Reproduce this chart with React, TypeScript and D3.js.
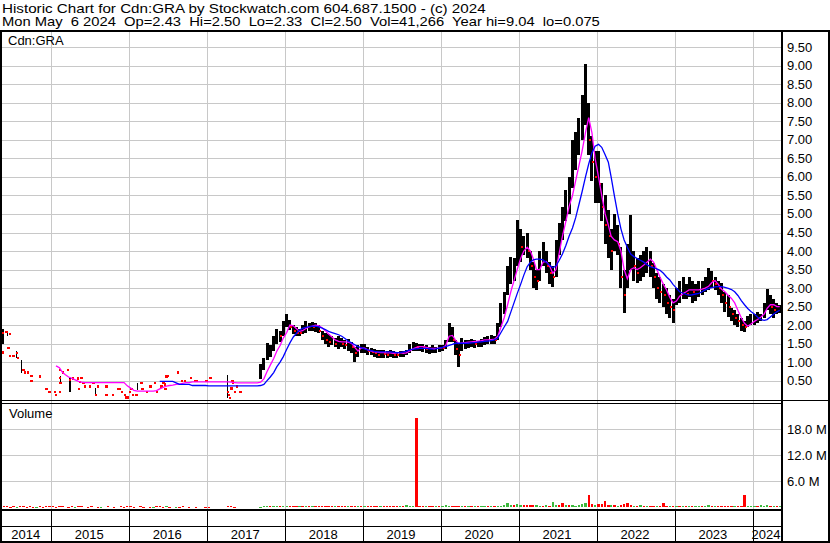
import React from "react";
import * as d3 from "d3";

// ---------------- DATA ----------------
const headerLine1 = "Historic Chart for Cdn:GRA by Stockwatch.com 604.687.1500 - (c) 2024";
const headerLine2 = "Mon May  6 2024  Op=2.43  Hi=2.50  Lo=2.33  Cl=2.50  Vol=41,266  Year hi=9.04  lo=0.075";
const symbolLabel = "Cdn:GRA";
const volumeLabel = "Volume";
const yearLabels = ["2014", "2015", "2016", "2017", "2018", "2019", "2020", "2021", "2022", "2023", "2024"];
const priceTicks = [0.5, 1, 1.5, 2, 2.5, 3, 3.5, 4, 4.5, 5, 5.5, 6, 6.5, 7, 7.5, 8, 8.5, 9, 9.5];
const volumeTicks = [6, 12, 18];

// thinly traded period: single-price trades (red marks)
const thinDates = [
  "2014-05-18", "2014-05-21", "2014-06-06", "2014-06-14", "2014-06-21", "2014-06-21", "2014-07-07", "2014-07-23",
  "2014-07-30", "2014-08-23", "2014-08-31", "2014-09-15", "2014-10-01", "2014-10-01", "2014-11-09", "2014-12-10",
  "2014-12-23", "2015-01-18", "2015-01-23", "2015-02-10", "2015-02-10", "2015-02-26", "2015-03-21", "2015-02-10",
  "2015-02-13", "2015-03-29", "2015-04-14", "2015-05-07", "2015-05-23", "2015-05-15", "2015-05-11", "2015-05-31",
  "2015-06-08", "2015-07-01", "2015-07-17", "2015-08-09", "2015-07-29", "2015-09-17", "2015-09-17", "2015-11-11",
  "2015-11-19", "2015-10-18", "2015-12-12", "2015-11-27", "2015-12-20", "2015-12-26", "2016-01-04", "2016-01-12",
  "2016-01-20", "2016-02-05", "2016-02-28", "2016-03-04", "2016-03-23", "2016-04-10", "2016-05-01", "2016-05-09",
  "2016-06-01", "2016-06-09", "2016-06-16", "2016-06-20", "2016-06-24", "2016-07-02", "2016-08-18", "2016-09-03",
  "2016-09-18", "2016-10-16", "2016-11-04", "2016-11-12", "2016-12-29", "2017-01-16", "2017-04-09", "2017-04-14",
  "2017-04-17", "2017-04-25", "2017-04-29", "2017-05-02", "2017-05-10", "2017-05-21", "2017-06-06",
];
const thinPrices = [
  1.78, 1.26, 1.82, 1.39, 1.76, 1.17, 1.17, 1.25,
  1.11, 0.79, 0.72, 0.72, 0.63, 0.49, 0.61, 0.28,
  0.2, 0.2, 0.11, 0.2, 0.79, 0.72, 0.79, 0.58,
  0.43, 0.52, 0.56, 0.56, 0.58, 0.47, 0.28, 0.43,
  0.34, 0.34, 0.43, 0.34, 0.11, 0.34, 0.11, 0.28,
  0.28, 0.11, 0.11, 0.2, 0.05, 0.05, 0.2, 0.27,
  0.11, 0.11, 0.43, 0.28, 0.2, 0.34, 0.43, 0.2,
  0.34, 0.43, 0.4, 0.28, 0.61, 0.63, 0.72, 0.49,
  0.49, 0.58, 0.49, 0.49, 0.49, 0.58, 0.2, 0.11,
  0.04, 0.29, 0.49, 0.45, 0.2, 0.34, 0.2,
];
// thinly traded period: days with a range
const thinBarDates = ["2014-05-19", "2014-06-08", "2014-07-23", "2014-08-15", "2015-02-12", "2015-03-29", "2015-07-25", "2016-02-10", "2017-04-06"];
const thinBarHigh = [1.9, 1.85, 1.29, 1.06, 0.62, 0.57, 0.3, 0.44, 0.65];
const thinBarLow = [1.5, 1.7, 1.11, 0.71, 0.42, 0.2, 0.11, 0.25, 0.03];

// half-month periods [high, low, close]
const hlc2017 = [
  null, null, null, null, null, null, null, null, null, null, null, null, null, null, null, null,
  [0.95, 0.55, 0.85], [1.1, 0.8, 1.0], [1.52, 1.05, 1.3], [1.45, 1.15, 1.3], [1.7, 1.3, 1.6], [1.9, 1.5, 1.75], [1.85, 1.55, 1.7], [2.1, 1.7, 2.0],
];
const hlc2018 = [
  [2.3, 1.95, 2.1], [2.15, 1.88, 1.95], [2.0, 1.75, 1.85], [1.95, 1.7, 1.8], [1.9, 1.7, 1.78], [2.0, 1.75, 1.9], [2.1, 1.8, 1.95], [2.05, 1.85, 2.0],
  [2.08, 1.85, 1.95], [2.05, 1.82, 1.95], [2.0, 1.78, 1.85], [1.85, 1.6, 1.7], [1.8, 1.5, 1.6], [1.75, 1.42, 1.55], [1.7, 1.45, 1.55], [1.65, 1.4, 1.5],
  [1.7, 1.35, 1.55], [1.65, 1.4, 1.5], [1.6, 1.35, 1.45], [1.62, 1.3, 1.45], [1.55, 1.25, 1.4], [1.4, 1.0, 1.25], [1.45, 1.15, 1.3], [1.5, 1.25, 1.4],
];
const hlc2019 = [
  [1.5, 1.25, 1.4], [1.4, 1.2, 1.3], [1.38, 1.18, 1.28], [1.35, 1.15, 1.25], [1.33, 1.12, 1.2], [1.32, 1.1, 1.25], [1.33, 1.12, 1.22], [1.3, 1.1, 1.2],
  [1.32, 1.15, 1.25], [1.3, 1.12, 1.2], [1.28, 1.1, 1.18], [1.3, 1.13, 1.22], [1.3, 1.15, 1.25], [1.33, 1.18, 1.28], [1.48, 1.25, 1.4], [1.55, 1.3, 1.45],
  [1.52, 1.3, 1.4], [1.5, 1.3, 1.42], [1.48, 1.28, 1.4], [1.45, 1.25, 1.35], [1.42, 1.22, 1.38], [1.45, 1.25, 1.35], [1.42, 1.25, 1.38], [1.45, 1.28, 1.4],
];
const hlc2020 = [
  [1.45, 1.3, 1.38], [1.6, 1.35, 1.5], [2.05, 1.55, 1.85], [1.95, 1.55, 1.6], [1.6, 1.2, 1.35], [1.5, 0.88, 1.2], [1.65, 1.3, 1.5], [1.6, 1.35, 1.5],
  [1.6, 1.38, 1.5], [1.62, 1.4, 1.55], [1.6, 1.38, 1.5], [1.58, 1.4, 1.52], [1.62, 1.42, 1.55], [1.68, 1.45, 1.6], [1.7, 1.48, 1.6], [1.72, 1.5, 1.62],
  [1.7, 1.5, 1.6], [2.05, 1.6, 1.9], [2.6, 1.95, 2.4], [2.9, 2.3, 2.7], [3.6, 2.8, 3.3], [3.85, 3.1, 3.5], [3.8, 3.2, 3.5], [4.84, 3.6, 4.2],
];
const hlc2021 = [
  [4.6, 3.7, 4.1], [4.4, 3.9, 4.2], [4.5, 3.8, 4.0], [4.0, 3.5, 3.6], [3.7, 3.0, 3.3], [3.5, 2.95, 3.2], [4.0, 3.2, 3.8], [4.25, 3.6, 3.9],
  [4.0, 3.4, 3.6], [3.7, 3.1, 3.4], [3.6, 3.04, 3.3], [4.3, 3.3, 4.0], [4.75, 3.9, 4.4], [5.2, 4.3, 4.9], [5.65, 4.8, 5.3], [6.0, 5.0, 5.7],
  [7.0, 5.7, 6.6], [7.2, 6.2, 6.8], [7.6, 6.6, 7.3], [8.2, 7.0, 7.8], [9.04, 7.4, 8.0], [8.0, 6.6, 7.0], [7.1, 5.9, 6.4], [6.7, 5.3, 6.0],
];
const hlc2022 = [
  [6.7, 5.3, 5.8], [5.85, 4.8, 5.2], [5.5, 4.2, 4.7], [5.1, 3.8, 4.4], [4.6, 3.5, 4.0], [5.0, 4.0, 4.5], [4.7, 3.9, 4.2], [4.1, 3.0, 3.3],
  [3.5, 2.32, 2.8], [4.2, 3.0, 3.8], [4.97, 3.5, 3.9], [4.0, 3.2, 3.6], [3.8, 3.15, 3.4], [3.9, 3.2, 3.7], [4.0, 3.3, 3.7], [4.12, 3.4, 3.8],
  [4.0, 3.3, 3.6], [3.67, 3.0, 3.3], [3.4, 2.7, 3.0], [3.3, 2.6, 2.9], [3.1, 2.5, 2.8], [3.0, 2.3, 2.6], [2.8, 2.2, 2.5], [2.7, 2.05, 2.4],
];
const hlc2023 = [
  [3.0, 2.55, 2.8], [3.2, 2.6, 2.9], [3.3, 2.7, 3.0], [3.1, 2.7, 2.85], [3.3, 2.75, 3.0], [3.2, 2.6, 2.9], [3.1, 2.65, 2.9], [3.2, 2.75, 3.0],
  [3.2, 2.8, 3.0], [3.3, 2.9, 3.1], [3.54, 2.95, 3.3], [3.45, 3.0, 3.2], [3.3, 2.95, 3.1], [3.2, 2.8, 3.0], [3.13, 2.6, 2.8], [2.9, 2.35, 2.6],
  [2.8, 2.23, 2.5], [2.45, 2.1, 2.3], [2.4, 2.0, 2.2], [2.3, 1.95, 2.1], [2.2, 1.85, 2.0], [2.1, 1.82, 1.95], [2.25, 1.95, 2.1], [2.3, 2.0, 2.15],
];
const hlc2024 = [
  [2.3, 2.0, 2.2], [2.35, 2.05, 2.2], [2.3, 2.1, 2.25], [2.6, 2.2, 2.5], [2.98, 2.4, 2.6], [2.8, 2.3, 2.5], [2.7, 2.2, 2.4], [2.6, 2.3, 2.5], [2.55, 2.33, 2.5],
];

// short moving average (magenta), per half-month
const pink2015 = [null, 0.9, 0.85, 0.72, 0.66, 0.6, 0.56, 0.52, 0.48, 0.46, 0.45, 0.45, 0.45, 0.45, 0.45, 0.45, 0.45, 0.45, 0.45, 0.45, 0.45, 0.45, 0.45, 0.36];
const pink2016 = [0.3, 0.24, 0.22, 0.22, 0.22, 0.22, 0.22, 0.22, 0.23, 0.28, 0.32, 0.35, 0.37, 0.38, 0.4, 0.41, 0.43, 0.45, 0.45, 0.47, 0.47, 0.47, 0.47, 0.47];
const pink2017 = [0.47, 0.47, 0.47, 0.47, 0.47, 0.47, 0.47, 0.46, 0.45, 0.44, 0.44, 0.44, 0.44, 0.44, 0.44, 0.44, 0.46, 0.55, 0.75, 0.92, 1.1, 1.3, 1.45, 1.65];
const pink2018 = [1.8, 2.0, 1.98, 1.9, 1.83, 1.85, 1.91, 1.95, 1.97, 2.0, 1.98, 1.93, 1.85, 1.76, 1.68, 1.6, 1.56, 1.55, 1.55, 1.54, 1.51, 1.4, 1.3, 1.38];
const pink2019 = [1.38, 1.33, 1.3, 1.28, 1.27, 1.26, 1.26, 1.25, 1.25, 1.24, 1.25, 1.26, 1.24, 1.25, 1.3, 1.36, 1.4, 1.42, 1.42, 1.4, 1.38, 1.37, 1.37, 1.38];
const pink2020 = [1.39, 1.45, 1.7, 1.72, 1.6, 1.5, 1.52, 1.53, 1.54, 1.55, 1.56, 1.57, 1.58, 1.6, 1.6, 1.61, 1.62, 1.7, 1.95, 2.2, 2.55, 2.9, 3.2, 3.5];
const pink2021 = [3.8, 4.0, 4.1, 4.0, 3.8, 3.5, 3.5, 3.7, 3.72, 3.6, 3.4, 3.5, 3.95, 4.4, 4.8, 5.2, 5.5, 5.9, 6.3, 6.7, 7.2, 7.6, 7.2, 6.5];
const pink2022 = [6.0, 5.5, 5.0, 4.7, 4.4, 4.3, 4.25, 4.0, 3.5, 3.25, 3.5, 3.55, 3.5, 3.55, 3.62, 3.7, 3.78, 3.7, 3.5, 3.3, 3.1, 2.95, 2.75, 2.6];
const pink2023 = [2.65, 2.78, 2.85, 2.9, 2.95, 2.95, 2.95, 2.95, 2.97, 3.0, 3.05, 3.15, 3.2, 3.1, 2.97, 2.9, 2.8, 2.72, 2.6, 2.4, 2.2, 2.05, 1.97, 2.03];
const pink2024 = [2.1, 2.15, 2.22, 2.3, 2.45, 2.55, 2.55, 2.5, 2.5];

// long moving average (blue), per half-month
const blue2016 = [null, null, null, null, null, null, null, null, null, 0.48, 0.48, 0.48, 0.48, 0.48, 0.44, 0.4, 0.4, 0.4, 0.4, 0.37, 0.37, 0.37, 0.37, 0.37];
const blue2017 = [0.36, 0.36, 0.36, 0.36, 0.36, 0.36, 0.36, 0.36, 0.36, 0.36, 0.36, 0.36, 0.36, 0.36, 0.36, 0.36, 0.37, 0.4, 0.5, 0.6, 0.72, 0.88, 1.0, 1.15];
const blue2018 = [1.35, 1.52, 1.68, 1.78, 1.86, 1.91, 1.94, 1.96, 1.97, 1.97, 1.95, 1.92, 1.88, 1.83, 1.8, 1.77, 1.74, 1.7, 1.64, 1.57, 1.52, 1.47, 1.42, 1.39];
const blue2019 = [1.36, 1.33, 1.31, 1.29, 1.28, 1.28, 1.28, 1.28, 1.28, 1.27, 1.26, 1.26, 1.28, 1.3, 1.33, 1.35, 1.36, 1.37, 1.37, 1.37, 1.36, 1.35, 1.36, 1.38];
const blue2020 = [1.4, 1.42, 1.45, 1.48, 1.51, 1.51, 1.51, 1.51, 1.51, 1.52, 1.53, 1.54, 1.55, 1.56, 1.57, 1.58, 1.6, 1.65, 1.8, 1.95, 2.1, 2.35, 2.6, 2.85];
const blue2021 = [3.1, 3.35, 3.58, 3.7, 3.76, 3.78, 3.78, 3.76, 3.7, 3.62, 3.55, 3.6, 3.75, 3.92, 4.15, 4.4, 4.62, 4.9, 5.25, 5.6, 6.0, 6.35, 6.65, 6.83];
const blue2022 = [6.88, 6.8, 6.6, 6.4, 6.0, 5.5, 5.0, 4.6, 4.3, 4.1, 3.92, 3.85, 3.8, 3.75, 3.7, 3.63, 3.58, 3.55, 3.52, 3.48, 3.4, 3.3, 3.22, 3.1];
const blue2023 = [3.0, 2.9, 2.86, 2.83, 2.81, 2.82, 2.84, 2.86, 2.9, 2.95, 2.99, 3.01, 3.03, 3.04, 3.04, 3.02, 2.99, 2.96, 2.9, 2.8, 2.66, 2.55, 2.45, 2.37];
const blue2024 = [2.3, 2.22, 2.15, 2.13, 2.15, 2.22, 2.3, 2.36, 2.4];

// volume in millions per half-month (positive = up / green, negative = down / red)
const vol2014 = [null, null, null, null, null, null, null, null, null, -0.2, -0.3, -0.1, -0.2, 0.1, -0.2, -0.3, -0.1, -0.2, -0.1, 0.1, -0.2, -0.1, -0.2, -0.2];
const vol2015 = [-0.2, -0.1, -0.3, -0.2, 0, -0.1, -0.2, 0.1, -0.2, -0.2, 0, -0.1, -0.2, 0, -0.1, 0.1, 0, -0.2, 0, -0.1, 0, -0.2, -0.1, -0.2];
const vol2016 = [-0.2, -0.1, 0, -0.2, -0.1, 0, -0.1, 0.1, -0.2, -0.2, -0.1, 0.2, -0.1, 0, 0.1, -0.1, -0.2, 0, -0.1, 0, -0.1, 0, 0, -0.1];
const vol2017 = [-0.1, 0, 0, 0, 0, 0, -0.2, -0.2, -0.1, 0, 0, 0, 0, 0, 0, 0, 0.1, 0.3, 0.2, -0.2, 0.3, 0.2, -0.2, 0.3];
const vol2018 = [0.3, -0.3, -0.2, -0.2, 0.2, -0.2, 0.2, -0.2, 0.2, -0.2, -0.2, -0.2, -0.2, -0.2, -0.2, 0.2, -0.2, -0.2, -0.2, 0.2, -0.2, -0.3, 0.2, -0.2];
const vol2019 = [0.2, -0.2, -0.2, -0.2, -0.2, 0.2, -0.2, -0.2, -0.2, -0.4, -0.2, 0.2, -0.2, 0.6, 0.2, 0.2, -20.5, -0.2, -0.2, 0.2, -0.2, -0.2, 0.2, -0.2];
const vol2020 = [0.2, 0.5, 0.3, -0.3, -0.3, -0.3, 0.3, -0.2, 0.2, -0.2, 0.3, -0.3, 0.3, 0.2, -0.3, 0.3, -0.2, 0.4, 0.4, 0.5, 1.1, 0.5, -0.5, 0.8];
const vol2021 = [0.6, -0.6, -0.5, -0.5, -0.6, 0.5, 0.4, -0.4, 0.5, -0.4, 1.2, 0.5, -0.5, -0.9, 0.6, -0.6, 0.5, 0.4, 0.5, 0.7, 0.9, -2.9, -0.7, 0.5];
const vol2022 = [-0.8, -0.7, -1.4, -0.5, 0.5, -0.6, 0.4, -0.6, -0.8, -0.9, -0.5, 0.4, -0.4, 0.5, -0.4, 0.4, -0.4, -0.4, 0.4, -0.4, -0.9, -0.4, 0.4, -0.4];
const vol2023 = [0.4, -0.3, 0.4, -0.3, 0.3, -0.3, 0.3, 0.3, -0.3, 0.4, 0.5, -0.4, 0.3, -0.3, -0.3, -0.3, -0.3, -0.3, 0.3, -0.3, -0.4, -2.9, 0.3, 0.3];
const vol2024 = [0.3, -0.3, 0.5, 0.4, 0.5, -0.4, 0.3, -0.3, 0.3];

// ---------------- CHART ----------------
const W = 830;
const H = 543;
const FONT = "'Liberation Sans', Arial, Helvetica, sans-serif";
const GRID = "#c8c8c8";
const LAST_DAY = new Date(2024, 4, 6);

function binDate(year: number, k: number): Date {
  const d = new Date(year, Math.floor(k / 2), k % 2 ? 23 : 8);
  return d > LAST_DAY ? LAST_DAY : d;
}

function flatten<T>(groups: [number, (T | null)[]][]) {
  const out: { date: Date; v: T }[] = [];
  groups.forEach(([yr, arr]) => arr.forEach((v, k) => { if (v !== null && v !== undefined) out.push({ date: binDate(yr, k), v }); }));
  return out;
}

export default function App() {
  const x = d3.scaleTime().domain([new Date(2014, 4, 15), new Date(2024, 4, 12)]).range([2, 781]);
  const y = d3.scaleLinear().domain([0, 9.5]).range([399.2, 47.3]);
  const yv = d3.scaleLinear().domain([0, 18]).range([507.3, 429]);

  const bars = flatten<number[]>([
    [2017, hlc2017], [2018, hlc2018], [2019, hlc2019], [2020, hlc2020], [2021, hlc2021],
    [2022, hlc2022], [2023, hlc2023], [2024, hlc2024],
  ] as any);
  const pink = flatten<number>([
    [2015, pink2015], [2016, pink2016], [2017, pink2017], [2018, pink2018], [2019, pink2019],
    [2020, pink2020], [2021, pink2021], [2022, pink2022], [2023, pink2023], [2024, pink2024],
  ] as any);
  const blue = flatten<number>([
    [2016, blue2016], [2017, blue2017], [2018, blue2018], [2019, blue2019], [2020, blue2020],
    [2021, blue2021], [2022, blue2022], [2023, blue2023], [2024, blue2024],
  ] as any);
  const vols = flatten<number>([
    [2014, vol2014], [2015, vol2015], [2016, vol2016], [2017, vol2017], [2018, vol2018], [2019, vol2019],
    [2020, vol2020], [2021, vol2021], [2022, vol2022], [2023, vol2023], [2024, vol2024],
  ] as any).filter((d) => d.v !== 0);

  const parse = d3.timeParse("%Y-%m-%d");
  const line = d3.line<{ date: Date; v: number }>().x((d) => x(d.date)).y((d) => y(d.v));

  const boundaries = d3.range(2015, 2025).map((yr) => x(new Date(yr, 0, 1)));
  const cellEdges = [2, ...boundaries, 781];

  return (
    <svg width={W} height={H} style={{ position: "absolute", left: 0, top: 0, display: "block" }} fontFamily={FONT}>
      <rect x={0} y={0} width={W} height={H} fill="#fff" />
      <defs>
        <clipPath id="pclip"><rect x={2} y={31} width={779} height={369} /></clipPath>
        <clipPath id="vclip"><rect x={2} y={404} width={779} height={105} /></clipPath>
      </defs>

      {/* header (horizontally widened to match the original wide system font) */}
      <g transform="translate(2,12.5) scale(1.17,1)">
        <text x={0} y={0} fontSize={13} fill="#000">{headerLine1}</text>
      </g>
      <g transform="translate(2,26) scale(1.135,1)">
        <text x={0} y={0} fontSize={13} fill="#000" style={{ whiteSpace: "pre" }}>{headerLine2}</text>
      </g>

      {/* grid */}
      <g stroke={GRID} strokeWidth={1} shapeRendering="crispEdges">
        {priceTicks.map((t) => <line key={"pg" + t} x1={2} x2={781} y1={Math.round(y(t)) + 0.5} y2={Math.round(y(t)) + 0.5} />)}
        {volumeTicks.map((t) => <line key={"vg" + t} x1={2} x2={781} y1={Math.round(yv(t)) + 0.5} y2={Math.round(yv(t)) + 0.5} />)}
        {boundaries.map((bx, i) => <line key={"xg" + i} x1={Math.round(bx) + 0.5} x2={Math.round(bx) + 0.5} y1={31} y2={509} />)}
      </g>

      {/* volume */}
      <g clipPath="url(#vclip)" shapeRendering="crispEdges">
        {vols.map((d, i) => (
          <rect key={"v" + i} x={x(d.date) - 1.2} width={2.4} y={yv(Math.abs(d.v))} height={Math.max(1, yv(0) - yv(Math.abs(d.v)))}
            fill={d.v < 0 ? "#ff0000" : "#3cb83c"} />
        ))}
      </g>

      {/* price */}
      <g clipPath="url(#pclip)">
        <g shapeRendering="crispEdges">
          {thinBarDates.map((ds, i) => {
            const bx = x(parse(ds) as Date);
            return <rect key={"tb" + i} x={bx - 0.5} width={1.2} y={y(thinBarHigh[i])} height={y(thinBarLow[i]) - y(thinBarHigh[i])} fill="#000" />;
          })}
          {bars.map((d, i) => (
            <rect key={"b" + i} x={x(d.date) - 1.5} width={3} y={y(d.v[0])} height={Math.max(1, y(d.v[1]) - y(d.v[0]))} fill="#000" />
          ))}
          {bars.map((d, i) => (i > 0 && d.v[2] < bars[i - 1].v[2] ? (
            <rect key={"c" + i} x={x(d.date) + 0.3} width={2} height={2} y={y(d.v[2]) - 1} fill="#ff0000" />
          ) : null))}
          {thinDates.map((ds, i) => (
            <rect key={"t" + i} x={x(parse(ds) as Date) - 1.2} y={y(thinPrices[i]) - 1.2} width={2.4} height={2.4} fill="#ff0000" />
          ))}
        </g>
        <path d={line(pink) || ""} fill="none" stroke="#ff00ff" strokeWidth={1.3} />
        <path d={line(blue) || ""} fill="none" stroke="#0000ff" strokeWidth={1.3} />
      </g>

      {/* frame */}
      <g stroke="#000" shapeRendering="crispEdges" fill="none">
        <line x1={0} x2={W} y1={30.5} y2={30.5} strokeWidth={2} />
        <line x1={1} x2={1} y1={30} y2={H} strokeWidth={2} />
        <line x1={781.5} x2={781.5} y1={30} y2={542} strokeWidth={2} />
        <line x1={829} x2={829} y1={30} y2={H} strokeWidth={2} />
        <line x1={0} x2={W} y1={400.5} y2={400.5} strokeWidth={1} />
        <line x1={0} x2={781} y1={403.5} y2={403.5} strokeWidth={1} />
        <line x1={0} x2={781} y1={509.5} y2={509.5} strokeWidth={2} />
        <line x1={0} x2={781} y1={526.5} y2={526.5} strokeWidth={1} />
        <line x1={0} x2={W} y1={542} y2={542} strokeWidth={2} />
        {boundaries.map((bx, i) => <line key={"yb" + i} x1={Math.round(bx) + 0.5} x2={Math.round(bx) + 0.5} y1={510} y2={542} strokeWidth={1} />)}
      </g>

      {/* labels */}
      <text x={8} y={45} fontSize={13} fill="#000">{symbolLabel}</text>
      <text x={9} y={418} fontSize={13} fill="#000">{volumeLabel}</text>
      {priceTicks.map((t) => (
        <text key={"pt" + t} x={787} y={y(t) + 4.5} fontSize={13} fill="#000">{d3.format(".2f")(t)}</text>
      ))}
      {volumeTicks.map((t) => (
        <text key={"vt" + t} x={787} y={yv(t) + 4.5} fontSize={13} fill="#000">{d3.format(".1f")(t) + " M"}</text>
      ))}
      {yearLabels.map((lab, i) => (
        <text key={"yl" + lab} x={(cellEdges[i] + cellEdges[i + 1]) / 2 - 1} y={539} fontSize={13} textAnchor="middle" fill="#000">{lab}</text>
      ))}
    </svg>
  );
}
